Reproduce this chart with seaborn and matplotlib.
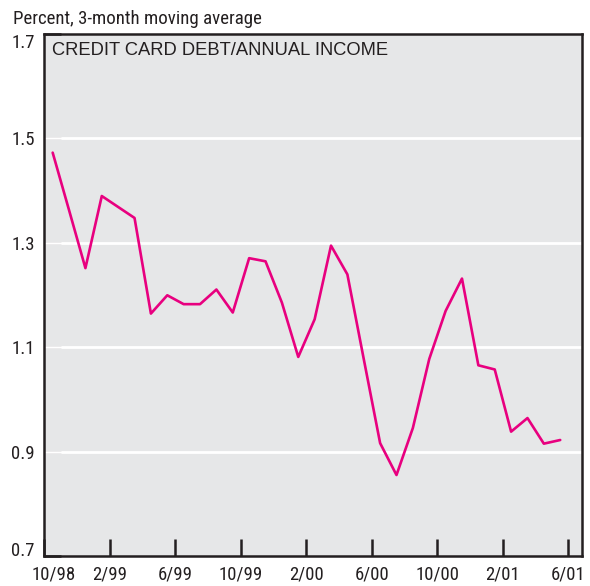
import numpy as np
import pandas as pd
import seaborn as sns
from matplotlib import pyplot as plt
from matplotlib import transforms

# dane (srednia 3-miesieczna, procent)
months = ['10/98', '11/98', '12/98', '1/99', '2/99', '3/99', '4/99', '5/99', '6/99', '7/99',
          '8/99', '9/99', '10/99', '11/99', '12/99', '1/00', '2/00', '3/00', '4/00', '5/00',
          '6/00', '7/00', '8/00', '9/00', '10/00', '11/00', '12/00', '1/01', '2/01', '3/01',
          '4/01', '5/01']
values = [1.472, 1.362, 1.251, 1.389, 1.368, 1.347, 1.164, 1.199, 1.182, 1.182,
          1.210, 1.166, 1.270, 1.264, 1.185, 1.081, 1.153, 1.294, 1.239, 1.077,
          0.916, 0.855, 0.945, 1.077, 1.169, 1.231, 1.065, 1.057, 0.938, 0.964,
          0.915, 0.922]
tick_labels = ['10/98', '2/99', '6/99', '10/99', '2/00', '6/00', '10/00', '2/01', '6/01']
y_ticks = [0.7, 0.9, 1.1, 1.3, 1.5, 1.7]

df = pd.DataFrame({'month': months, 'value': values})
df['x'] = np.arange(len(df)) + 0.5   # punkty w polowie miesiaca

sns.set_style('white', {'axes.facecolor': '#E6E7E8', 'axes.edgecolor': '#231F20'})
plt.rcParams['font.family'] = ['Roboto Condensed', 'Roboto', 'DejaVu Sans']

fig = plt.figure(figsize=(5.9, 5.86), dpi=100)
ax = fig.add_axes([0.0754, 0.0512, 0.9102, 0.8916])

for y in y_ticks[1:-1]:
    ax.axhline(y, color='white', lw=2, zorder=1)

sns.lineplot(data=df, x='x', y='value', color='#E8007F', lw=1.9, ax=ax, zorder=3)

ax.set_xlim(0, 32.8)
ax.set_ylim(0.7, 1.7)
ax.set_xticks(np.arange(0, 33, 4))
ax.set_xticklabels(tick_labels)
ax.set_yticks(y_ticks)
ax.set_yticklabels(['%.1f' % v for v in y_ticks])
ax.set_xlabel('')
ax.set_ylabel('')

for s in ax.spines.values():
    s.set_linewidth(1.8)
    s.set_zorder(4)

ax.tick_params(direction='in', length=12, width=1.8, color='#231F20',
               labelsize=13.5, labelcolor='#231F20', bottom=True, left=True)
ax.tick_params(axis='x', pad=7)
ax.tick_params(axis='y', pad=7)

labs = ax.get_yticklabels()
labs[-1].set_va('top')
labs[0].set_va('baseline')

# pierwsza etykieta osi x przesunieta w prawo
xl = ax.get_xticklabels()[0]
xl.set_transform(xl.get_transform() + transforms.ScaledTranslation(0.09, 0, fig.dpi_scale_trans))

ax.text(0.0134, 0.959, 'CREDIT CARD DEBT/ANNUAL INCOME', transform=ax.transAxes,
        fontsize=13.2, family=['Liberation Sans', 'DejaVu Sans'], color='#231F20',
        va='baseline', ha='left')

fig.text(13 / 590, 1 - 24 / 586, 'Percent, 3-month moving average', fontsize=13.6,
         color='#231F20', va='baseline', ha='left')

fig.savefig('out.png', dpi=100)
